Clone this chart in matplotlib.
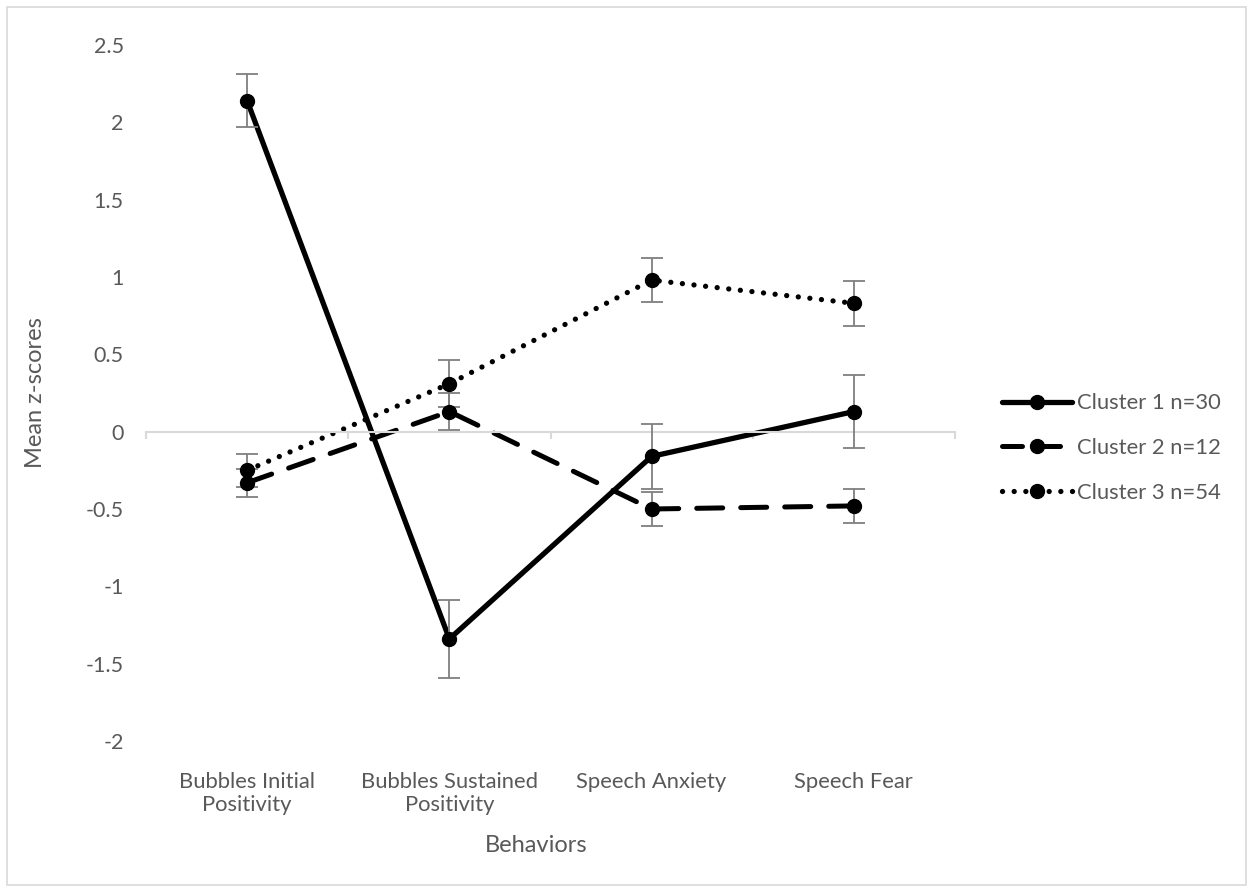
import matplotlib
matplotlib.use("Agg")
import matplotlib.pyplot as plt
from matplotlib.lines import Line2D
from matplotlib.patches import Rectangle
import numpy as np

plt.rcParams['font.family'] = ['Lato', 'DejaVu Sans']

categories = ["Bubbles Initial\nPositivity", "Bubbles Sustained\nPositivity",
              "Speech Anxiety", "Speech Fear"]
series_names = ["Cluster 1 n=30", "Cluster 2 n=12", "Cluster 3 n=54"]
cluster1 = [2.14, -1.34, -0.16, 0.13]
cluster2 = [-0.33, 0.13, -0.50, -0.48]
cluster3 = [-0.25, 0.31, 0.98, 0.83]
err1 = [0.17, 0.25, 0.21, 0.235]
err2 = [0.09, 0.118, 0.108, 0.11]
err3 = [0.105, 0.153, 0.14, 0.147]
yticks = [-2, -1.5, -1, -0.5, 0, 0.5, 1, 1.5, 2, 2.5]
ytick_labels = ["-2", "-1.5", "-1", "-0.5", "0", "0.5", "1", "1.5", "2", "2.5"]

W, H = 1253, 892
fig = plt.figure(figsize=(W / 100, H / 100), dpi=100)
ax = fig.add_axes([146 / W, 1 - 741 / H, (955 - 146) / W, (741 - 45) / H])

x = np.arange(len(categories))
gray_txt = "#595959"
styles = [
    dict(linestyle="-", lw=3.8, leg="-"),
    dict(linestyle=(0, (5.2, 3.6)), lw=3.6, leg=(0, (4.0, 3.6))),
    dict(linestyle=(0, (0.01, 2.2)), lw=3.8, leg=(0, (0.01, 2.2))),
]
data = [cluster1, cluster2, cluster3]
errs = [err1, err2, err3]

handles = []
for vals, e, st, name in zip(data, errs, styles, series_names):
    ax.errorbar(x, vals, yerr=e, fmt="none", ecolor="#7f7f7f", elinewidth=1.3,
                capsize=8, capthick=1.3, zorder=3)
    ax.plot(x, vals, color="black", linestyle=st["linestyle"], lw=st["lw"],
            dash_capstyle="round", solid_capstyle="round", zorder=2)
    ax.plot(x, vals, linestyle="none", marker="o", color="black", markersize=10, zorder=4)
    handles.append(Line2D([0], [0], color="black", linestyle=st["leg"], lw=st["lw"],
                          dash_capstyle="round", solid_capstyle="round",
                          marker="o", markersize=10, label=name))

ax.set_xlim(-0.5, len(categories) - 0.5)
ax.set_ylim(-2, 2.5)
for s in ax.spines.values():
    s.set_visible(False)
ax.spines['bottom'].set_visible(True)
ax.spines['bottom'].set_position(('data', 0))
ax.spines['bottom'].set_color("#d9d9d9")
ax.spines['bottom'].set_linewidth(1.5)
ax.set_xticks(np.arange(len(categories) + 1) - 0.5)
ax.set_xticklabels([])
ax.tick_params(axis='x', length=5, width=1.5, color="#d9d9d9", direction="out")
ax.set_yticks(yticks)
ax.set_yticklabels(ytick_labels)
ax.tick_params(axis='y', length=0, pad=16, labelsize=15.5, labelcolor=gray_txt)

for xi, lab in zip(x, categories):
    ax.text(xi, -0.045, lab, transform=ax.get_xaxis_transform(), ha="center", va="top",
            fontsize=15.8, color=gray_txt, linespacing=1.15)

fig.text(536 / W, 1 - 845 / H, "Behaviors", ha="center", va="center", fontsize=17, color=gray_txt)
fig.text(36 / W, 1 - 393 / H, "Mean z-scores", ha="center", va="center", rotation=90,
         fontsize=17, color=gray_txt)

leg = fig.legend(handles=handles, loc="center left", bbox_to_anchor=(1002 / W, 1 - 448 / H),
                 frameon=False, fontsize=15.8, handlelength=3.2, handletextpad=0.2,
                 labelspacing=1.12, labelcolor=gray_txt, borderaxespad=0, borderpad=0)

fig.patches.append(Rectangle((7 / W, 7 / H), (W - 14) / W, (H - 14) / H, transform=fig.transFigure,
                             fill=False, edgecolor="#d9d9d9", lw=1.2))

fig.savefig("out.png", dpi=100)
